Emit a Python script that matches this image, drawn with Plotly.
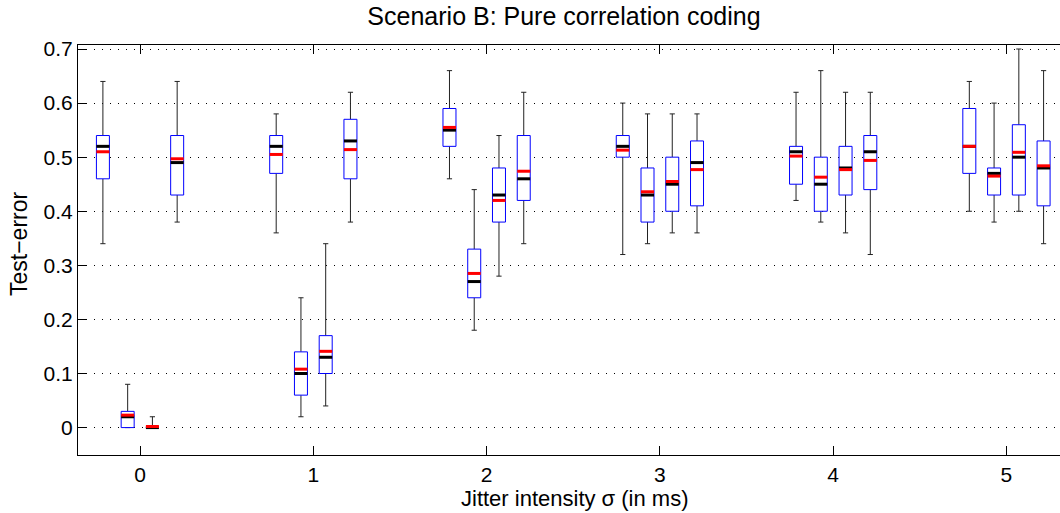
import plotly.graph_objects as go

# ---------------- data ----------------
sigma = [0, 1, 2, 3, 4, 5]
x_tick_labels = ["0", "1", "2", "3", "4", "5"]
y_tick_values = [0, 0.1, 0.2, 0.3, 0.4, 0.5, 0.6, 0.7]
y_tick_labels = ["0", "0.1", "0.2", "0.3", "0.4", "0.5", "0.6", "0.7"]

# series 1 (leftmost box of each group)
s1_upper  = [0.64, 0.58, 0.66, 0.60, 0.62, 0.64]
s1_q3     = [0.54, 0.54, 0.59, 0.54, 0.52, 0.59]
s1_median = [0.52, 0.52, 0.55, 0.52, 0.51, 0.52]
s1_mean   = [0.510, 0.505, 0.555, 0.513, 0.502, 0.520]
s1_q1     = [0.46, 0.47, 0.52, 0.50, 0.45, 0.47]
s1_lower  = [0.34, 0.36, 0.46, 0.32, 0.42, 0.40]

# series 2
s2_upper  = [0.08, 0.24, 0.44, 0.58, 0.66, 0.60]
s2_q3     = [0.03, 0.14, 0.33, 0.48, 0.50, 0.48]
s2_median = [0.02, 0.10, 0.27, 0.43, 0.45, 0.47]
s2_mean   = [0.023, 0.108, 0.285, 0.436, 0.463, 0.465]
s2_q1     = [0.00, 0.06, 0.24, 0.38, 0.40, 0.43]
s2_lower  = [0.00, 0.02, 0.18, 0.34, 0.38, 0.38]

# series 3
s3_upper  = [0.02, 0.34, 0.54, 0.58, 0.62, 0.70]
s3_q3     = [0.00, 0.17, 0.48, 0.50, 0.52, 0.56]
s3_median = [0.00, 0.13, 0.43, 0.45, 0.48, 0.50]
s3_mean   = [0.002, 0.141, 0.420, 0.455, 0.477, 0.509]
s3_q1     = [0.00, 0.10, 0.38, 0.40, 0.43, 0.43]
s3_lower  = [0.00, 0.04, 0.28, 0.36, 0.36, 0.40]

# series 4 (rightmost box of each group)
s4_upper  = [0.64, 0.62, 0.62, 0.58, 0.62, 0.66]
s4_q3     = [0.54, 0.57, 0.54, 0.53, 0.54, 0.53]
s4_median = [0.49, 0.53, 0.46, 0.49, 0.51, 0.48]
s4_mean   = [0.497, 0.514, 0.474, 0.477, 0.494, 0.484]
s4_q1     = [0.43, 0.46, 0.42, 0.41, 0.44, 0.41]
s4_lower  = [0.38, 0.38, 0.34, 0.36, 0.32, 0.34]

series = [
    (s1_upper, s1_q3, s1_median, s1_mean, s1_q1, s1_lower),
    (s2_upper, s2_q3, s2_median, s2_mean, s2_q1, s2_lower),
    (s3_upper, s3_q3, s3_median, s3_mean, s3_q1, s3_lower),
    (s4_upper, s4_q3, s4_median, s4_mean, s4_q1, s4_lower),
]

# ---------------- layout constants ----------------
offsets = [-1.5 / 7, -0.5 / 7, 0.5 / 7, 1.5 / 7]
box_half = 0.0375
cap_half = 0.015
FONT = "Liberation Sans, Arial, Helvetica, sans-serif"

wx, wy, bx, by, mx, my, ax_, ay = [], [], [], [], [], [], [], []
for k, (up, q3, med, mean, q1, lo) in enumerate(series):
    for j, s in enumerate(sigma):
        xc = s + offsets[k]
        # whiskers
        wx += [xc, xc, None, xc, xc, None,
               xc - cap_half, xc + cap_half, None,
               xc - cap_half, xc + cap_half, None]
        wy += [lo[j], q1[j], None, q3[j], up[j], None,
               up[j], up[j], None, lo[j], lo[j], None]
        # box
        bx += [xc - box_half, xc + box_half, xc + box_half, xc - box_half, xc - box_half, None]
        by += [q1[j], q1[j], q3[j], q3[j], q1[j], None]
        # median
        mx += [xc - box_half, xc + box_half, None]
        my += [med[j], med[j], None]
        # mean
        ax_ += [xc - box_half, xc + box_half, None]
        ay += [mean[j], mean[j], None]

fig = go.Figure()
fig.add_trace(go.Scatter(x=wx, y=wy, mode="lines", line=dict(color="#222222", width=1),
                         hoverinfo="skip", showlegend=False))
fig.add_trace(go.Scatter(x=bx, y=by, mode="lines", fill="toself", fillcolor="white",
                         line=dict(color="#0000ff", width=1), hoverinfo="skip", showlegend=False))
fig.add_trace(go.Scatter(x=mx, y=my, mode="lines", line=dict(color="black", width=3),
                         name="median", showlegend=False))
fig.add_trace(go.Scatter(x=ax_, y=ay, mode="lines", line=dict(color="#ff0000", width=3),
                         name="mean", showlegend=False))

fig.update_layout(
    width=1060, height=513,
    margin=dict(l=78, r=0, t=45, b=58),
    paper_bgcolor="white", plot_bgcolor="white",
    font=dict(family=FONT, size=21, color="black"),
    title=dict(text="Scenario B: Pure correlation coding", font=dict(family=FONT, size=25, color="black"),
               x=564 / 1060, xref="container", xanchor="center",
               y=1 - 16 / 513, yref="container", yanchor="middle"),
    annotations=[
        dict(text="Jitter intensity σ (in ms)", x=(575 - 78) / 982, y=(455 - 498) / 410,
             xref="paper", yref="paper", xanchor="center", yanchor="middle",
             showarrow=False, font=dict(family=FONT, size=22, color="black")),
        dict(text="Test−error", x=(19 - 78) / 982, y=(455 - 244) / 410,
             xref="paper", yref="paper", xanchor="center", yanchor="middle", textangle=-90,
             showarrow=False, font=dict(family=FONT, size=23, color="black")),
    ],
)

fig.update_xaxes(range=[-0.358, 5.309], tickvals=sigma, ticktext=x_tick_labels,
                 ticks="inside", ticklen=9, tickwidth=1, tickcolor="black",
                 showline=True, linecolor="black", linewidth=1, mirror="ticks",
                 showgrid=False, zeroline=False, ticklabelstandoff=1,
                 tickfont=dict(family=FONT, size=21, color="black"))
fig.update_yaxes(range=[-0.0507, 0.7074], tickvals=y_tick_values, ticktext=y_tick_labels,
                 ticks="inside", ticklen=9, tickwidth=1, tickcolor="black",
                 showline=True, linecolor="black", linewidth=1,
                 showgrid=True, gridcolor="black", gridwidth=1, griddash="1px,7px",
                 zeroline=False, ticklabelstandoff=0,
                 tickfont=dict(family=FONT, size=21, color="black"))

fig.write_html("out.html")
